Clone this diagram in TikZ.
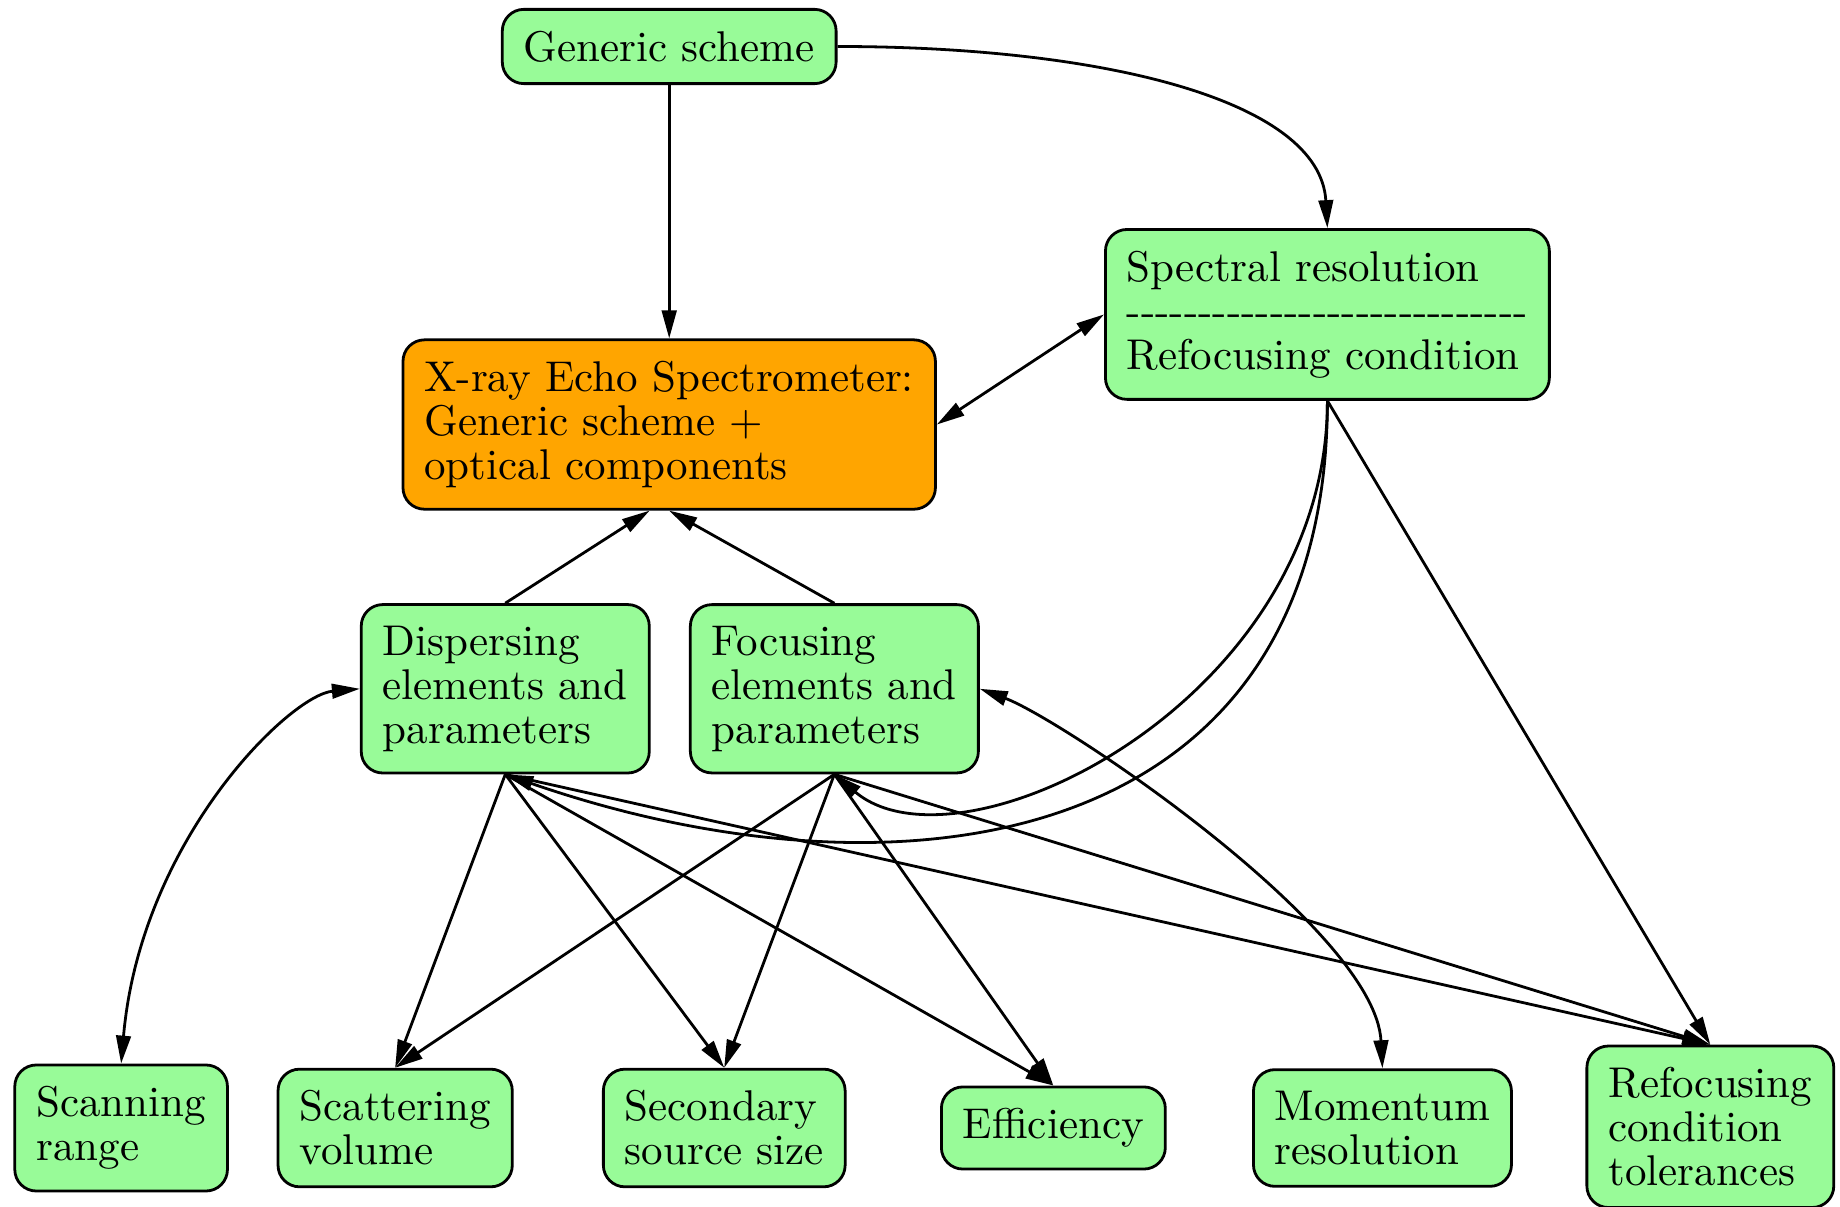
\documentclass[tikz,border=0pt]{standalone}
\usepackage{xcolor}
\usepackage{tikz}
\usetikzlibrary{arrows.meta}

\definecolor{palegreen}{RGB}{152,251,152}
\definecolor{boxorange}{RGB}{255,165,0}
\newcommand{\dashrow}{\foreach \k in {1,...,28}{\mbox{-}}}

\begin{document}
\begin{tikzpicture}[
  every node/.style={draw, rounded corners=5pt, line width=0.65pt, fill=palegreen, align=left,
    inner xsep=5pt, inner ysep=5pt, font=\fontsize{10}{10.2}\selectfont},
  main/.style={fill=boxorange},
  link/.style={line width=0.65pt, -{Triangle[length=6.5pt,width=3.4pt]}},
  twoway/.style={line width=0.65pt, {Triangle[length=6.5pt,width=3.4pt]}-{Triangle[length=6.5pt,width=3.4pt]}}
]
\useasboundingbox (0,0) rectangle (15.04,9.86);

\node (gen) at (5.47,9.48) {Generic scheme};
\node (spec) at (10.85,7.29) {Spectral resolution\\\dashrow\\Refocusing condition};
\node[main] (xes) at (5.47,6.39) {X-ray Echo Spectrometer:\\Generic scheme +\\optical components};
\node (disp) at (4.13,4.23) {Dispersing\\elements and\\parameters};
\node (foc) at (6.82,4.23) {Focusing\\elements and\\parameters};
\node (scan) at (0.99,0.64) {Scanning\\range};
\node (scat) at (3.23,0.64) {Scattering\\volume};
\node (sec) at (5.92,0.64) {Secondary\\source size};
\node (eff) at (8.61,0.64) {Efficiency};
\node (mom) at (11.30,0.64) {Momentum\\resolution};
\node (tol) at (13.98,0.65) {Refocusing\\condition\\tolerances};

\draw[link] (gen) -- (xes);
\draw[link] (gen.east) .. controls +(2.15,0) and +(-0.06,1.05) .. (spec.north);
\draw[twoway] (xes.east) -- (spec.west);
\draw[link] (disp.north) -- ([xshift=-1.6mm]xes.south);
\draw[link] (foc.north) -- (xes.south);
\draw[twoway] (disp.west) .. controls +(-0.57,-0.05) and +(0.16,1.83) .. (scan.north);
\draw[twoway] (foc.east) .. controls +(0.67,-0.25) and +(-0.06,1.14) .. (mom.north);
\draw[link] (spec.south) .. controls +(0,-2.46) and +(1.03,-0.87) .. (foc.south);
\draw[link] (spec.south) .. controls +(0,-3.69) and +(3.23,-1.12) .. (disp.south);
\draw[link] (spec.south) -- (tol.north);
\foreach \src in {disp,foc}
  \foreach \dst in {scat,sec,eff,tol}
    \draw[link] (\src.south) -- (\dst.north);
\end{tikzpicture}
\end{document}
